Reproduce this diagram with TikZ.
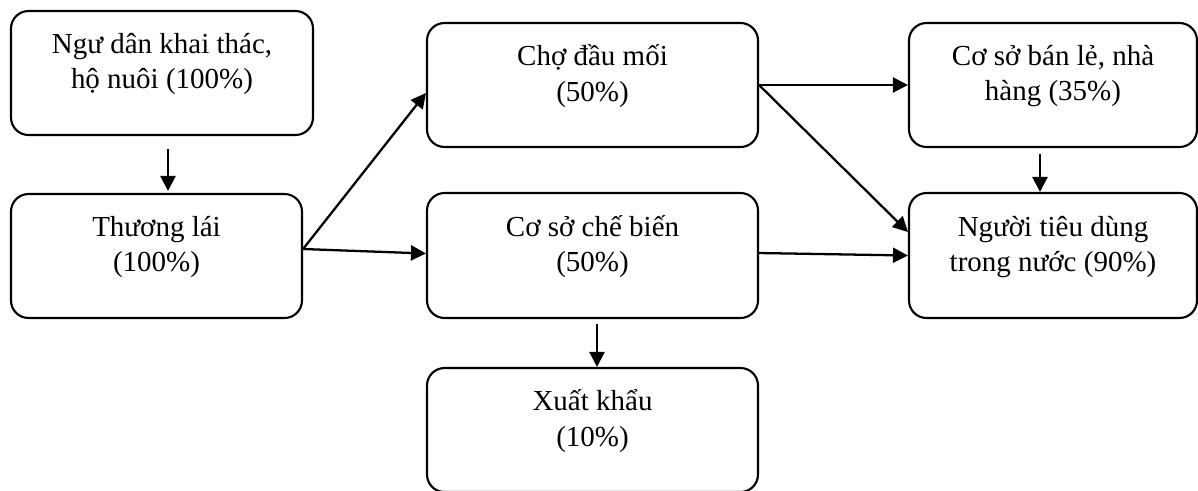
\documentclass[tikz,border=0pt]{standalone}
\usepackage{fontspec}
\setmainfont{Liberation Serif}
\usetikzlibrary{arrows.meta,positioning,calc}

\begin{document}
\begin{tikzpicture}[
        stage/.style={rectangle, rounded corners=0.35cm, draw, line width=1.2pt, minimum height=2.48cm, inner sep=0pt, align=center, font=\fontsize{16.5}{20}\selectfont, text depth=0.48cm},
        flow/.style={-{Triangle[length=0.3cm,width=0.3cm]}, line width=1.3pt}
    ]
        \useasboundingbox (0,0) rectangle (23.96,-9.8);

        % Source
        \node[stage, minimum width=6.04cm] (ngudan) at (3.24,-1.46) {Ngư dân khai thác,\\hộ nuôi (100\%)};
        \node[stage, minimum width=5.82cm] (thuonglai) at (3.13,-5.12) {Thương lái\\(100\%)};
        \draw[flow, shorten <=0.26cm, shorten >=0.04cm] ([xshift=0.12cm]ngudan.south) -- ([xshift=0.12cm]ngudan.south |- thuonglai.north);

        % Middle stages
        \node[stage, minimum width=6.62cm] (cho) at (11.85,-1.70) {Chợ đầu mối\\(50\%)};
        \node[stage, minimum width=6.62cm, minimum height=2.5cm] (chebien) at (11.85,-5.11) {Cơ sở chế biến\\(50\%)};
        \node[stage, minimum width=6.62cm] (xuatkhau) at (11.85,-8.60) {Xuất khẩu\\(10\%)};

        \coordinate (split) at ([yshift=0.14cm]thuonglai.east);
        \draw[flow] (split) -- ([yshift=-0.16cm]cho.west);
        \draw[flow] (split) -- ([yshift=0.04cm]chebien.west);
        \draw[flow, shorten <=0.1cm] ([xshift=0.09cm]chebien.south) -- ([xshift=0.09cm]chebien.south |- xuatkhau.north);

        % Consumers
        \node[stage, minimum width=5.76cm] (banle) at (21.06,-1.70) {Cơ sở bán lẻ, nhà\\hàng (35\%)};
        \node[stage, minimum width=5.76cm, minimum height=2.5cm] (tieudung) at (21.06,-5.11) {Người tiêu dùng\\trong nước (90\%)};

        \draw[flow] (cho.east) -- (banle.west);
        \draw[flow] (cho.east) -- ([yshift=0.47cm]tieudung.west);
        \draw[flow] ([yshift=0.05cm]chebien.east) -- (tieudung.west);
        \draw[flow, shorten <=0.12cm] ([xshift=-0.26cm]banle.south) -- ([xshift=-0.26cm]banle.south |- tieudung.north);

    \end{tikzpicture}
\end{document}
